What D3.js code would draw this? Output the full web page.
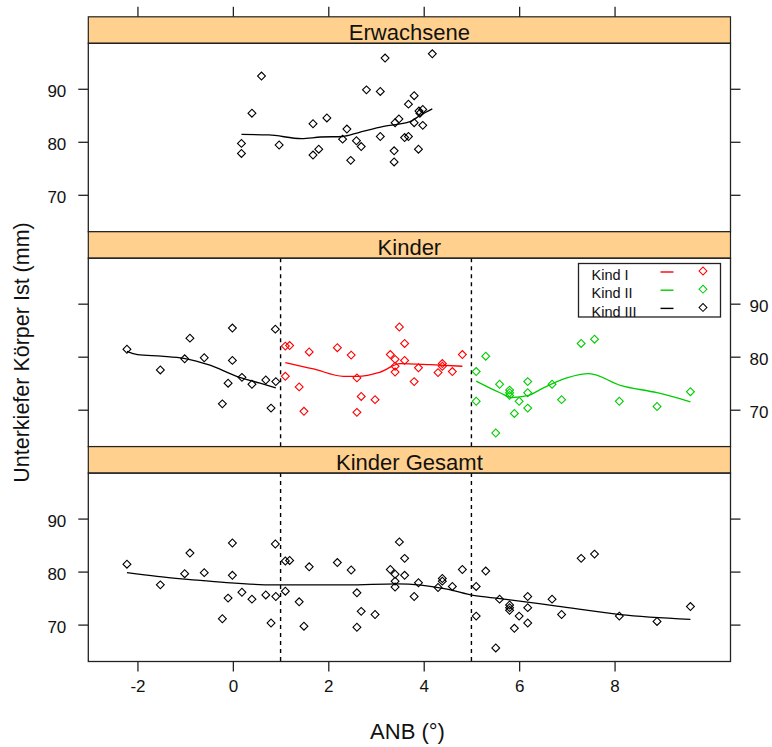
<!DOCTYPE html>
<html>
<head>
<meta charset="utf-8">
<script src="https://cdn.jsdelivr.net/npm/d3@7"></script>
<style>
  html, body { margin: 0; padding: 0; background: #fff; }
  svg { display: block; font-family: "Liberation Sans", Arial, sans-serif; }
</style>
</head>
<body>
<svg id="chart" width="772" height="747"></svg>
<script>
// ---------------- data ----------------
const panelNames = ["Erwachsene", "Kinder", "Kinder Gesamt"];
const xTicks = [-2, 0, 2, 4, 6, 8];
const yTicks = [70, 80, 90];
const xLimits = [-3.03, 10.43];
const yLimits = [63.04, 98.58];
const groupCuts = [1, 5];

const adultX = [0.18, 0.18, 0.40, 0.60, 0.97, 1.68, 1.68, 1.80, 1.97, 2.30, 2.39, 2.47, 2.59, 2.69, 2.80, 3.09, 3.09,
  3.19, 3.38, 3.38, 3.40, 3.48, 3.60, 3.68, 3.68, 3.80, 3.80, 3.89, 3.90, 3.98, 3.98, 4.18, 3.92];
const adultY = [79.7, 77.8, 85.4, 92.4, 79.4, 83.4, 77.5, 78.6, 84.5, 80.5, 82.4, 76.5, 80.2, 79.1, 89.8, 89.5, 81.0,
  95.8, 78.3, 76.2, 83.6, 84.3, 80.8, 81.0, 87.1, 88.7, 83.6, 78.6, 85.8, 86.1, 83.1, 96.6, 85.4];
const adultFitX = [0.18, 0.75, 1.44, 1.84, 2.30, 2.62, 3.16, 3.71, 3.93, 4.18];
const adultFitY = [81.4, 81.3, 80.6, 80.9, 81.0, 81.7, 82.9, 83.8, 85.0, 86.2];

const kind3X = [-2.22, -1.52, -1.01, -0.90, -0.60, -0.22, -0.10, -0.01, -0.01, 0.19, 0.40, 0.69, 0.80, 0.89, 0.90];
const kind3Y = [81.4, 77.5, 79.6, 83.5, 79.8, 71.1, 75.0, 85.4, 79.3, 76.1, 74.8, 75.6, 70.3, 85.2, 75.3];
const kind3FitX = [-2.22, -2.0, -1.5, -1.03, -0.48, 0.08, 0.57, 0.90];
const kind3FitY = [81.0, 80.4, 80.1, 79.7, 78.4, 76.3, 75.0, 74.1];

const kind1X = [1.10, 1.10, 1.19, 1.39, 1.49, 1.60, 2.19, 2.48, 2.60, 2.60, 2.69, 2.98, 3.30, 3.40, 3.40, 3.40,
  3.49, 3.60, 3.60, 3.80, 3.89, 4.30, 4.39, 4.39, 4.60, 4.81];
const kind1Y = [76.3, 82.0, 82.1, 74.3, 69.7, 80.9, 81.7, 80.3, 76.0, 69.5, 72.5, 71.9, 80.4, 79.5, 78.2, 77.1,
  85.6, 82.5, 79.3, 75.3, 77.9, 77.0, 78.7, 78.2, 77.2, 80.4];
const kind1FitX = [1.10, 1.69, 2.32, 2.60, 3.09, 3.51, 4.14, 4.81];
const kind1FitY = [78.9, 77.7, 76.3, 76.3, 77.1, 78.7, 78.5, 78.2];

const kind2X = [5.10, 5.10, 5.30, 5.51, 5.59, 5.80, 5.80, 5.80, 5.90, 6.00, 6.18, 6.18, 6.18, 6.69, 6.89, 7.30,
  7.58, 8.10, 8.89, 9.59];
const kind2Y = [77.2, 71.6, 80.1, 65.6, 74.8, 73.7, 72.7, 73.2, 69.3, 71.6, 75.3, 73.2, 70.3, 74.8, 71.9, 82.5,
  83.3, 71.6, 70.6, 73.4];
const kind2FitX = [5.10, 5.60, 5.85, 6.20, 6.44, 7.00, 7.46, 8.12, 8.89, 9.59];
const kind2FitY = [75.4, 73.2, 72.3, 72.7, 73.8, 76.0, 76.8, 74.6, 73.2, 71.5];

const allFitX = [-2.22, -1.59, -0.90, -0.13, 0.85, 2.39, 3.44, 4.49, 5.04, 5.60, 6.79, 8.12, 9.59];
const allFitY = [79.8, 79.1, 78.5, 77.9, 77.5, 77.5, 77.7, 76.7, 75.5, 74.9, 73.5, 71.9, 71.0];

const legendLabels = ["Kind I", "Kind II", "Kind III"];
const groupColors = ["#ff0000", "#00cd00", "#000000"];

// ---------------- layout ----------------
const W = 772, H = 747;
const left = 88.3, right = 730.5;
const firstTop = 16.8, blockH = 214.9, stripH = 26.5, plotH = 188.4;
const stripFill = "#ffd08e";
const frameColor = "#222";
const plainNum = d => String(d);

const svg = d3.select("#chart");
svg.append("rect").attr("width", W).attr("height", H).attr("fill", "#fff");

const x = d3.scaleLinear().domain(xLimits).range([left, right]);

const zip = (xs, ys) => xs.map((v, i) => ({ x: v, y: ys[i] }));
const diamond = d3.symbol().type(d3.symbolSquare).size(31);

const panels = [
  {
    points: [{ data: zip(adultX, adultY), color: "#000" }],
    fits: [{ data: zip(adultFitX, adultFitY), color: "#000" }],
    cuts: false, labelSide: "left"
  },
  {
    points: [
      { data: zip(kind3X, kind3Y), color: groupColors[2] },
      { data: zip(kind1X, kind1Y), color: groupColors[0] },
      { data: zip(kind2X, kind2Y), color: groupColors[1] }
    ],
    fits: [
      { data: zip(kind3FitX, kind3FitY), color: groupColors[2] },
      { data: zip(kind1FitX, kind1FitY), color: groupColors[0] },
      { data: zip(kind2FitX, kind2FitY), color: groupColors[1] }
    ],
    cuts: true, labelSide: "right", legend: true
  },
  {
    points: [
      { data: zip(kind3X, kind3Y), color: "#000" },
      { data: zip(kind1X, kind1Y), color: "#000" },
      { data: zip(kind2X, kind2Y), color: "#000" }
    ],
    fits: [{ data: zip(allFitX, allFitY), color: "#000" }],
    cuts: true, labelSide: "left"
  }
];

panels.forEach((p, i) => {
  const stripTop = firstTop + i * blockH;
  const plotTop = stripTop + stripH;
  const plotBottom = plotTop + plotH;
  const y = d3.scaleLinear().domain(yLimits).range([plotBottom, plotTop]);
  const g = svg.append("g");

  // strip
  g.append("rect").attr("x", left).attr("y", stripTop).attr("width", right - left).attr("height", stripH)
    .attr("fill", stripFill).attr("stroke", frameColor).attr("stroke-width", 1.2);
  g.append("text").attr("x", (left + right) / 2).attr("y", stripTop + stripH - 3)
    .attr("text-anchor", "middle").attr("font-size", 22).attr("fill", "#111").text(panelNames[i]);

  // clip for plot
  const clipId = "clip" + i;
  svg.append("clipPath").attr("id", clipId).append("rect")
    .attr("x", left).attr("y", plotTop).attr("width", right - left).attr("height", plotH);
  const plot = g.append("g").attr("clip-path", `url(#${clipId})`);

  if (p.cuts) {
    plot.selectAll("line.cut").data(groupCuts).join("line").attr("class", "cut")
      .attr("x1", d => x(d)).attr("x2", d => x(d)).attr("y1", plotTop).attr("y2", plotBottom)
      .attr("stroke", "#000").attr("stroke-width", 1.4).attr("stroke-dasharray", "4,4");
  }

  const line = d3.line().x(d => x(d.x)).y(d => y(d.y)).curve(d3.curveMonotoneX);
  p.fits.forEach(f => {
    plot.append("path").attr("d", line(f.data)).attr("fill", "none")
      .attr("stroke", f.color).attr("stroke-width", 1.3);
  });
  p.points.forEach(s => {
    plot.selectAll(null).data(s.data).join("path")
      .attr("d", diamond)
      .attr("transform", d => `translate(${x(d.x)},${y(d.y)}) rotate(45)`)
      .attr("fill", "none").attr("stroke", s.color).attr("stroke-width", 1.1);
  });

  // frame
  g.append("rect").attr("x", left).attr("y", plotTop).attr("width", right - left).attr("height", plotH)
    .attr("fill", "none").attr("stroke", frameColor).attr("stroke-width", 1.3);

  // y axes (ticks both sides, labels alternating)
  const axL = d3.axisLeft(y).tickValues(yTicks).tickSize(10).tickPadding(12)
    .tickFormat(p.labelSide === "left" ? plainNum : () => "");
  const axR = d3.axisRight(y).tickValues(yTicks).tickSize(10).tickPadding(9)
    .tickFormat(p.labelSide === "right" ? plainNum : () => "");
  [[axL, left], [axR, right]].forEach(([ax, xx]) => {
    const a = g.append("g").attr("transform", `translate(${xx},0)`).call(ax);
    a.select(".domain").remove();
    a.selectAll(".tick line").attr("stroke", frameColor).attr("stroke-width", 1.3);
    a.selectAll(".tick text").attr("font-size", 17).attr("fill", "#111")
      .attr("font-family", "'Liberation Sans', Arial, sans-serif").attr("dy", "0.45em");
  });

  // x axes
  if (i === 0) {
    const a = g.append("g").attr("transform", `translate(0,${stripTop})`)
      .call(d3.axisTop(x).tickValues(xTicks).tickSize(10).tickFormat(() => ""));
    a.select(".domain").remove();
    a.selectAll(".tick line").attr("stroke", frameColor).attr("stroke-width", 1.3);
  }
  if (i === panels.length - 1) {
    const a = g.append("g").attr("transform", `translate(0,${plotBottom})`)
      .call(d3.axisBottom(x).tickValues(xTicks).tickSize(10).tickPadding(8).tickFormat(plainNum));
    a.select(".domain").remove();
    a.selectAll(".tick line").attr("stroke", frameColor).attr("stroke-width", 1.3);
    a.selectAll(".tick text").attr("font-size", 17).attr("fill", "#111")
      .attr("font-family", "'Liberation Sans', Arial, sans-serif");
  }

  // legend
  if (p.legend) {
    const lg = g.append("g");
    const bx = 578.5, by = 263.5, bw = 142, bh = 53.5, rowH = 18.2;
    lg.append("rect").attr("x", bx).attr("y", by).attr("width", bw).attr("height", bh)
      .attr("fill", "#fff").attr("stroke", "#222").attr("stroke-width", 1.3);
    legendLabels.forEach((lab, k) => {
      const cy = by + 8.5 + k * rowH;
      lg.append("text").attr("x", bx + 13).attr("y", cy + 8.2).attr("font-size", 14.5)
        .attr("fill", "#111").text(lab);
      lg.append("line").attr("x1", bx + 82).attr("x2", bx + 95).attr("y1", cy).attr("y2", cy)
        .attr("stroke", groupColors[k]).attr("stroke-width", 1.4);
      lg.append("path").attr("d", diamond).attr("transform", `translate(${bx + 124.5},${cy - 1}) rotate(45)`)
        .attr("fill", "none").attr("stroke", groupColors[k]).attr("stroke-width", 1);
    });
  }
});

// titles
svg.append("text").attr("x", 407.5).attr("y", 739).attr("text-anchor", "middle")
  .attr("font-size", 22).attr("fill", "#111").text("ANB (°)");
svg.append("text").attr("transform", "translate(29,352.5) rotate(-90)").attr("text-anchor", "middle")
  .attr("font-size", 21.5).attr("fill", "#111").text("Unterkiefer Körper Ist (mm)");
</script>
</body>
</html>
